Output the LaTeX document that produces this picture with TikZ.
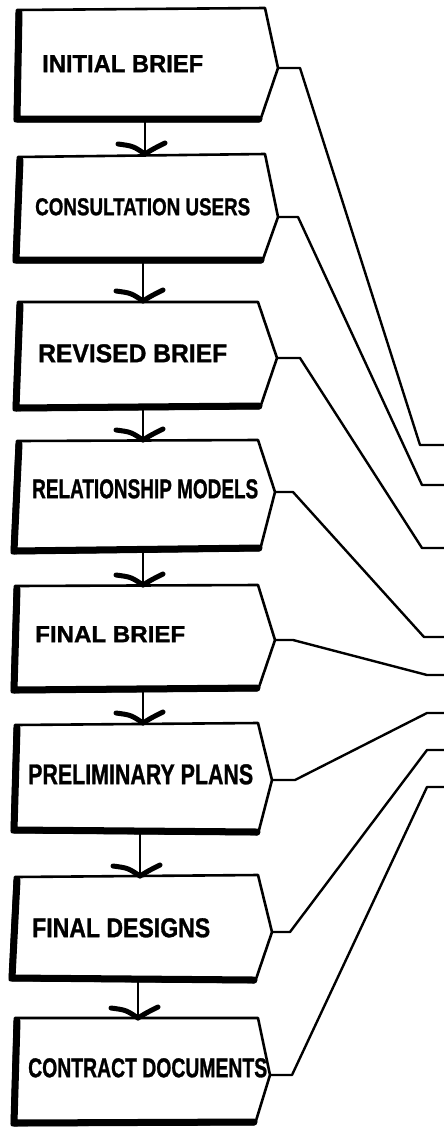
\documentclass[tikz,border=0pt]{standalone}
\usepackage{fontspec}
\setmainfont{Liberation Sans}[BoldFeatures={FakeBold=1.2}]
\usepackage{graphicx}
\usetikzlibrary{calc}
\tikzset{
  outline/.style={line width=2.6pt, line join=round, line cap=round},
  heavy/.style={line width=7pt, line join=round, line cap=round},
  wire/.style={line width=2.4pt, line join=round, line cap=round},
  stem/.style={line width=2.2pt, line cap=round},
  barb/.style={line width=5pt, line cap=round},
  caption/.style={inner sep=0pt, anchor=north west, font=\bfseries},
}
\begin{document}
\begin{tikzpicture}[x=1pt, y=-1pt]
  \useasboundingbox[fill=white] (0,0) rectangle (444,1130);

  % stage boxes: top-left, top-right, point, bottom-right, bottom-left
  \foreach \i/\tlx/\tly/\trx/\try/\px/\py/\brx/\bry/\blx/\bly in {
    1/17/10/265/8/278/68/260/121/15/121,
    2/18/157/265/154/278/217/262/262/14/262,
    3/18/302/258/302/277/358/260/408/14/410,
    4/17/441/258/440/275/492/260/550/12/553,
    5/15/586/258/585/275/640/258/690/12/692,
    6/15/725/258/723/272/780/258/834/12/832,
    7/15/877/258/875/272/932/255/982/10/980,
    8/15/1018/258/1018/270/1075/255/1124/12/1125} {
    \coordinate (tl\i) at (\tlx,\tly);
    \coordinate (tr\i) at (\trx,\try);
    \coordinate (p\i)  at (\px,\py);
    \coordinate (br\i) at (\brx,\bry);
    \coordinate (bl\i) at (\blx,\bly);
    \draw[outline] (tl\i) -- (tr\i) -- (p\i) -- (br\i) -- (bl\i) -- cycle;
    \draw[heavy] ($(tl\i)+(2,3)$) -- ($(bl\i)+(2,-2)$) -- ($(br\i)+(-1,-2)$);
  }

  % stage captions
  \node[caption] (c1) at (42,55)   {\resizebox{161pt}{17pt}{INITIAL BRIEF}};
  \node[caption] (c2) at (35,198)  {\resizebox{215pt}{17pt}{CONSULTATION USERS}};
  \node[caption] (c3) at (38,344)  {\resizebox{189pt}{18pt}{REVISED BRIEF}};
  \node[caption] (c4) at (32,479)  {\resizebox{226pt}{19pt}{RELATIONSHIP MODELS}};
  \node[caption] (c5) at (35,626)  {\resizebox{150pt}{16pt}{FINAL BRIEF}};
  \node[caption] (c6) at (28,764)  {\resizebox{225pt}{20pt}{PRELIMINARY PLANS}};
  \node[caption] (c7) at (32,918)  {\resizebox{178pt}{19pt}{FINAL DESIGNS}};
  \node[caption] (c8) at (28,1058) {\resizebox{239pt}{19pt}{CONTRACT DOCUMENTS}};

  % flow arrows between consecutive stages
  \foreach \i/\j/\ax/\sy/\hy in {
    1/2/145/121/154, 2/3/143/262/301, 3/4/143/408/440,
    4/5/143/550/585, 5/6/143/690/723, 6/7/140/832/876,
    7/8/138/981/1018} {
    \coordinate (s\i) at (\ax,\sy);
    \coordinate (h\j) at (\ax,\hy);
    \draw[stem] (s\i) -- (h\j);
    \draw[barb] ($(h\j)+(-27,-10)$) .. controls ($(h\j)+(-12,-8)$) .. (h\j);
    \draw[barb] ($(h\j)+(20,-11)$) .. controls ($(h\j)+(8,-5)$) .. (h\j);
  }

  % leads from each stage to the right-hand margin
  \foreach \i/\sx/\jx/\jy in {
    1/22/420/445, 2/20/422/485, 3/23/422/548, 4/18/424/637,
    5/18/427/675, 6/23/427/713, 7/18/427/750, 8/22/427/787} {
    \coordinate (j\i) at (\jx,\jy);
    \coordinate (e\i) at (444,\jy);
    \draw[wire] (p\i) -- ++(\sx,0) -- (j\i) -- (e\i);
  }
\end{tikzpicture}
\end{document}
